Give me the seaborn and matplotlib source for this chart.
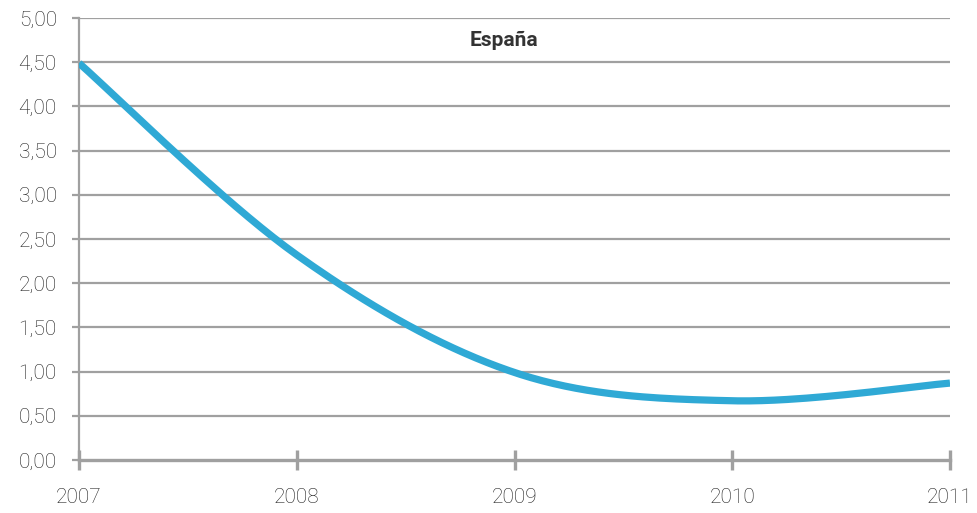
import numpy as np
import pandas as pd
import matplotlib
matplotlib.use("Agg")
import matplotlib.pyplot as plt
import seaborn as sns

years = [2007, 2008, 2009, 2010, 2011]
values = [4.49, 2.32, 0.99, 0.67, 0.87]
yticks = [0.0, 0.5, 1.0, 1.5, 2.0, 2.5, 3.0, 3.5, 4.0, 4.5, 5.0]
title = "España"

sns.set_theme(style="white")
plt.rcParams['font.family'] = ["Roboto", 'DejaVu Sans']

def smooth(xs, ys, n=40):
    # Catmull-Rom style Bezier smoothing (like spreadsheet "smoothed line")
    xs = np.asarray(xs, float); ys = np.asarray(ys, float)
    px = np.concatenate([[xs[0]], xs, [xs[-1]]])
    py = np.concatenate([[ys[0]], ys, [ys[-1]]])
    ox, oy = [], []
    t = np.linspace(0, 1, n)
    for i in range(1, len(px) - 2):
        p0 = np.array([px[i], py[i]]); p3 = np.array([px[i+1], py[i+1]])
        p1 = p0 + (np.array([px[i+1], py[i+1]]) - np.array([px[i-1], py[i-1]])) / 6
        p2 = p3 - (np.array([px[i+2], py[i+2]]) - np.array([px[i], py[i]])) / 6
        b = ((1-t)**3)[:, None]*p0 + (3*(1-t)**2*t)[:, None]*p1 + (3*(1-t)*t**2)[:, None]*p2 + (t**3)[:, None]*p3
        ox.extend(b[:, 0]); oy.extend(b[:, 1])
    return np.array(ox), np.array(oy)

sx, sy = smooth(years, values)
df = pd.DataFrame({"x": sx, "y": sy})

fig = plt.figure(figsize=(9.77, 5.13), dpi=100)
ax = fig.add_axes([79/977, 53/513, (950-79)/977, (460-18)/513])

grid_c = "#a0a0a0"
for v in yticks[1:]:
    ax.axhline(v, color=grid_c, lw=1.6, zorder=1)

sns.lineplot(data=df, x="x", y="y", ax=ax, color="#2fa9d5", lw=5.2, sort=False,
             solid_capstyle="butt", zorder=3)

ax.set_xlim(2007, 2011)
ax.set_ylim(0, 5)
ax.set_xticks(years)
ax.set_xticklabels([str(y) for y in years])
ax.set_yticks(yticks)
ax.set_yticklabels([f"{v:.2f}".replace(".", ",") for v in yticks])
ax.set_xlabel(""); ax.set_ylabel("")

for s in ["top", "right"]:
    ax.spines[s].set_visible(False)
ax.spines["left"].set_color(grid_c); ax.spines["left"].set_linewidth(1.6)
ax.spines["bottom"].set_color(grid_c); ax.spines["bottom"].set_linewidth(2.4)
ax.spines["bottom"].set_zorder(2)

lab_kw = dict(labelsize=15, labelcolor="#1e1e1e")
ax.tick_params(axis="x", direction="inout", length=14, width=2.4, color=grid_c,
               pad=13.5, bottom=True, **lab_kw)
ax.tick_params(axis="y", direction="out", length=5, width=1.6, color=grid_c,
               pad=11, left=True, **lab_kw)
for lab in ax.get_xticklabels() + ax.get_yticklabels():
    lab.set_fontweight("light")

fig.text(504/977, 1 - 40/513, title, ha="center", va="center", fontsize=15,
         fontweight="bold", color="#333333")

fig.savefig("out.png", dpi=100, facecolor="white")
